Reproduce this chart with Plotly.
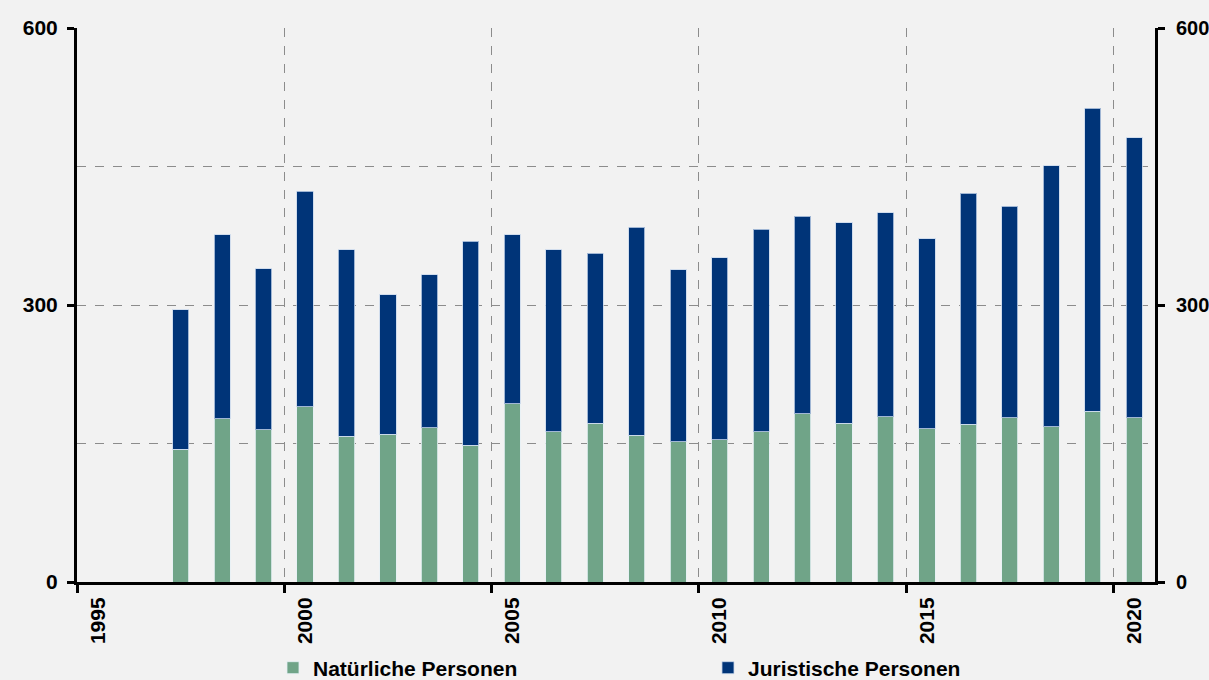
import plotly.graph_objects as go

jahre = list(range(1997, 2021))

natuerliche = [144, 177, 165, 190, 158, 160, 167, 148, 193, 163, 172, 159,
               152, 154, 163, 182, 172, 179, 166, 171, 178, 168, 185, 178]
juristische = [151, 199, 174, 233, 202, 151, 166, 221, 183, 197, 184, 225,
               186, 197, 219, 214, 217, 221, 206, 250, 229, 283, 328, 303]

tick_jahre = [1995, 2000, 2005, 2010, 2015, 2020]
y_ticks = [0, 300, 600]

gruen = "#70A488"
blau = "#003478"
hintergrund = "#F2F2F2"
gitter = "#8C8C8C"
schrift = dict(family="Liberation Sans, Arial, sans-serif", size=21, color="black", weight="bold")
legenden_schrift = dict(schrift, size=21)
rechts_schrift = dict(schrift, size=20)

fig = go.Figure()
fig.add_trace(go.Bar(x=jahre, y=natuerliche, name="Natürliche Personen",
                     marker=dict(color=gruen, line=dict(color="rgba(230,240,245,0.8)", width=1)),
                     width=0.39))
fig.add_trace(go.Bar(x=jahre, y=juristische, name="Juristische Personen",
                     marker=dict(color=blau, line=dict(color="rgba(200,215,235,0.8)", width=1)),
                     width=0.39))
# leere Spur, damit die rechte Achse gezeichnet wird
fig.add_trace(go.Scatter(x=[], y=[], yaxis="y2", showlegend=False, hoverinfo="skip"))

achse_y = dict(range=[0, 600], tickvals=y_ticks, ticks="outside", ticklen=7,
               tickwidth=3, tickcolor="black", showline=True, linecolor="black",
               linewidth=3, zeroline=False, automargin=False)

fig.update_layout(
    width=1209, height=680,
    barmode="stack",
    paper_bgcolor=hintergrund, plot_bgcolor=hintergrund,
    margin=dict(l=77, r=54, t=28, b=98),
    font=schrift,
    showlegend=True,
    legend=dict(orientation="h", xref="container", yref="container",
                x=0.2258, y=0.0176, xanchor="left", yanchor="middle",
                entrywidth=390, entrywidthmode="pixels",
                font=legenden_schrift, bgcolor="rgba(0,0,0,0)", itemwidth=30,
                traceorder="normal"),
    xaxis=dict(range=[1994.5, 2020.5],
               # Beschriftung mittig unter dem Jahr, Striche und Gitter an der Grenze davor
               tickvals=tick_jahre,
               ticktext=[str(j) for j in tick_jahre],
               tickangle=-90, ticks="", showgrid=False,
               minor=dict(tickvals=[j - 0.5 for j in tick_jahre], ticks="outside",
                          ticklen=8, tickwidth=3, tickcolor="black",
                          showgrid=True, gridcolor=gitter, griddash="dash", gridwidth=1),
               showline=True, linecolor="black", linewidth=3,
               tickfont=schrift, zeroline=False, automargin=False,
               ticklabelstandoff=4),
    yaxis=dict(**achse_y, tickfont=schrift, showgrid=True, gridcolor=gitter,
               griddash="dash", gridwidth=1, ticklabelstandoff=5,
               minor=dict(tickvals=[150, 450], showgrid=True, gridcolor=gitter,
                          griddash="dash", gridwidth=1)),
    yaxis2=dict(**achse_y, tickfont=rechts_schrift, overlaying="y", side="right",
                showgrid=False, ticklabelstandoff=7),
)

fig.write_html("out.html", post_script="document.body.style.margin='0';",
               config={"displayModeBar": False})
